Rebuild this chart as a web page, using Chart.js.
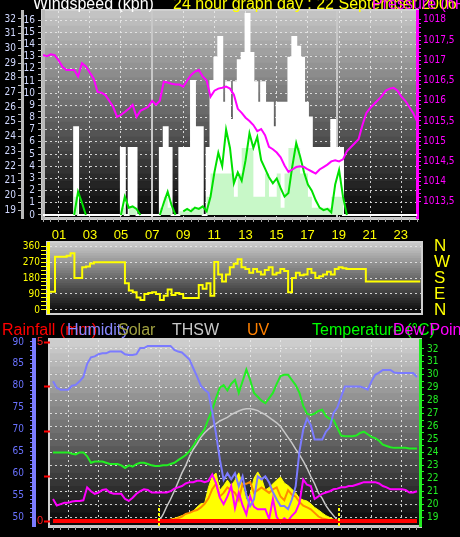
<!DOCTYPE html>
<html>
<head>
<meta charset="utf-8">
<title>24 hour graph</title>
<script src="https://cdn.jsdelivr.net/npm/chart.js"></script>
<style>
  body { margin: 0; background: #000; }
  #page { position: relative; width: 460px; height: 537px; overflow: hidden; background: #000;
          font-family: 'Liberation Sans', Arial, sans-serif; }
  canvas { position: absolute; left: 0; }
  .title { position: absolute; white-space: nowrap; font-size: 16px; line-height: 16px; }
</style>
</head>
<body>
<div id="page">
  <canvas id="windChart" width="460" height="228" style="top:0"></canvas>
  <canvas id="dirChart" width="460" height="92" style="top:228px"></canvas>
  <canvas id="climateChart" width="460" height="217" style="top:320px"></canvas>

  <div class="title" style="left:33px;top:-4px;color:#fff">Windspeed (kph)</div>
  <div class="title" style="left:173px;top:-4px;color:#ffff00">24 hour graph day : 22 September 2006</div>
  <div class="title" style="left:372px;top:-4px;color:#ff00ff">Pressure (hPa)</div>

  <div class="title" style="left:2px;top:322px;color:#ff0000">Rainfall (mm)</div>
  <div class="title" style="left:67px;top:322px;color:#8888ff">Humidity</div>
  <div class="title" style="left:118px;top:322px;color:#a0a040">Solar</div>
  <div class="title" style="left:172px;top:322px;color:#c8c8c8">THSW</div>
  <div class="title" style="left:247px;top:322px;color:#ff8000">UV</div>
  <div class="title" style="left:312px;top:322px;color:#00ff00">Temperature (°C)</div>
  <div class="title" style="left:393px;top:322px;color:#ff00ff">Dew Point</div>
</div>

<script>
// readings every quarter hour, first one at 00:00
const STEP = 0.25;
const SUNRISE = 7.0;
const SUNSET = 18.85;

const LABEL_HOURS = [1, 3, 5, 7, 9, 11, 13, 15, 17, 19, 21, 23];
const HOUR_LABELS = ['01', '03', '05', '07', '09', '11', '13', '15', '17', '19', '21', '23'];

const WIND_TICKS = [0, 1, 2, 3, 4, 5, 6, 7, 8, 9, 10, 11, 12, 13, 14, 15, 16];
const OUTER_TICKS = [19, 20, 21, 22, 23, 24, 25, 26, 27, 28, 29, 30, 31, 32];
const PRESSURE_TICKS = [1013.5, 1014, 1014.5, 1015, 1015.5, 1016, 1016.5, 1017, 1017.5, 1018];
const DIR_TICKS = [0, 90, 180, 270, 360];
const DIR_LETTERS = ['N', 'E', 'S', 'W', 'N'];
const HUM_TICKS = [50, 55, 60, 65, 70, 75, 80, 85, 90];
const RAIN_TICKS = [0, 1.25, 2.5, 3.75, 5];
const RAIN_LABELS = ['0', '', '', '', '5'];
const TEMP_TICKS = [19, 20, 21, 22, 23, 24, 25, 26, 27, 28, 29, 30, 31, 32];

// wind gust (kph)
const GUST = [
  0, 0, 0, 0,   0, 0, 0, 0,   0, 7.2, 0, 0,   0, 0, 0, 0,
  0, 0, 0, 0,   0, 5.5, 0, 5.5,   5.5, 0, 0, 0,   0, 0, 0, 5.5,
  7.2, 5.5, 0, 0,   5.5, 5.5, 5.5, 11,   7.2, 7.2, 0, 5.5,   11, 12.9, 14.6, 9.2,
  10.9, 7.8, 10.9, 12.7,   13.3, 16.5, 13.3, 10.9,   9.2, 10.9, 9.2, 9.2,   7.2, 9.2, 9.2, 9.2,
  12.9, 14.6, 13.8, 12.9,   9.2, 8.0, 5.5, 5.5,   5.5, 5.5, 5.5, 7.8,   5.5, 5.5, 0, 0,
  0, 0, 0, 0,   0, 0, 0, 0,   0, 0, 0, 0,   0, 0, 0, 0,
  0
];
// average wind (kph)
const WIND_AVG = [
  0, 0, 0, 0,   0, 0, 0, 0,   0, 1.5, 0, 0,   0, 0, 0, 0,
  0, 0, 0, 0,   0, 0.6, 0, 0.6,   0.6, 0, 0, 0,   0, 0, 0, 0.6,
  1.5, 0.6, 0, 0,   0.3, 0.3, 0.3, 0.6,   0.6, 0.6, 0, 1.5,   3.4, 3.4, 3.4, 3.4,
  3.4, 3.4, 1.5, 3.4,   5.5, 5.5, 5.5, 1.5,   1.5, 1.5, 3.4, 1.5,   1.5, 3.4, 0.6, 3.4,
  5.5, 5.5, 5.5, 3.4,   3.4, 1.5, 0.6, 0.6,   0.6, 0.6, 0.6, 1.5,   1.5, 1.5, 0, null,
  null, null, null, null,   null, null, null, null,   null, null, null, null,   null, null, null, null,
  null
];
// wind speed (kph)
const WIND_SPEED = [
  null, null, null, null,   null, null, null, null,   0, 1.9, 1.0, 0,   null, null, null, null,
  null, null, null, null,   0, 1.5, 0.6, 0.7,   0.5, 0, null, null,   null, null, 0, 1.0,
  1.9, 0.8, 0, null,   0.3, 0.5, 0.3, 0.6,   0.5, 0.7, 0.3, 1.5,   3.5, 5.1, 4.0, 7.0,
  5.5, 2.6, 3.5, 2.8,   4.5, 6.7, 5.5, 6.4,   4.5, 3.8, 3.1, 2.6,   3.0, 2.2, 1.5, 1.8,
  4.0, 5.9, 4.8, 3.5,   2.5, 2.0, 1.2, 0.6,   0.4, 0.5, 0.2, 2.5,   3.7, 1.5, 0, null,
  null, null, null, null,   null, null, null, null,   null, null, null, null,   null, null, null, null,
  null
];
// barometer (hPa)
const PRESSURE = [
  1017.13, 1017.1, 1017.15, 1017.13,   1017.0, 1016.84, 1016.76, 1016.76,
  1016.76, 1016.6, 1016.93, 1016.85,   1016.7, 1016.55, 1016.22, 1016.2,
  1016.14, 1016.0, 1015.85, 1015.6,   1015.65, 1015.72, 1015.8, 1015.9,
  1015.6, 1015.75, 1015.8, 1015.85,   1016.0, 1015.9, 1016.0, 1016.47,
  1016.45, 1016.42, 1016.4, 1016.4,   1016.35, 1016.5, 1016.64, 1016.72,
  1016.76, 1016.6, 1016.5, 1016.1,   1016.25, 1016.3, 1016.32, 1016.35,
  1016.3, 1016.15, 1015.8, 1015.7,   1015.58, 1015.5, 1015.4, 1015.25,
  1015.3, 1015.15, 1014.86, 1014.8,   1014.72, 1014.6, 1014.4, 1014.24,
  1014.3, 1014.36, 1014.38, 1014.36,   1014.3, 1014.25, 1014.2, 1014.3,
  1014.36, 1014.42, 1014.5, 1014.53,   1014.5, 1014.55, 1014.75, 1014.85,
  1014.95, 1015.05, 1015.4, 1015.7,   1015.82, 1015.92, 1016.02, 1016.12,
  1016.25, 1016.3, 1016.32, 1016.25,   1016.1, 1016.0, 1015.85, 1015.7,
  1015.5
];
// wind direction (degrees)
const WIND_DIR = [
  103, 103, 103, 103,   300, 300, 300, 305,   320, 180, 180, 240,   245, 262, 268, 268,
  268, 268, 268, 268,   268, 268, 150, 110,   100, 70, 56, 90,   95, 100, 90, 56,
  80, 115, 85, 95,   90, 67, 67, 67,   67, 140, 120, 150,   80, 270, 200, 160,
  200, 240, 260, 285,   240, 230, 210, 230,   215, 200, 225, 240,   200, 210, 230, 220,
  100, 180, 210, 195,   200, 230, 210, 180,   190, 200, 215, 200,   230, 240, 235, 230,
  230, 230, 230, 230,   160, 160, 160, 160,   160, 160, 160, 160,   160, 160, 160, 160,
  160, 160
];
// rain (mm), hourly
const RAIN = [0, 0, 0, 0, 0, 0, 0, 0, 0, 0, 0, 0, 0, 0, 0, 0, 0, 0, 0, 0, 0, 0, 0, 0, 0];
// humidity (%)
const HUMIDITY = [
  81, 79.5, 79.1, 79.1,   79.1, 80, 80.2, 81,   82, 85, 86.5, 86.7,   87.2, 87.4, 87.4, 87.8,
  87.8, 87.8, 87.8, 87.2,   87, 87, 87.2, 88.6,   88.6, 89.1, 89.1, 89.1,   89.1, 89.1, 89.1, 89.1,
  88.2, 87.8, 87.6, 86.8,   86, 84, 82.1, 80,   79.1, 78.4, 74, 69,   63.2, 58.5, 60, 58.6,
  60, 57, 59.3, 55,   52.5, 54, 59.3, 58.6,   59.3, 57.9, 55.7, 54,   52.5, 52.5, 51.8, 54,
  57, 65, 70, 72.5,   71, 67.7, 67.7, 67.7,   69.5, 70.5, 73.8, 75,   77.5, 79.8, 79.8, 79.8,
  79.8, 79.8, 79.5, 79.1,   81, 82.5, 83, 83.6,   83.6, 83.6, 83, 82.9,   82.9, 82.9, 82.9, 82.9,
  82
];
// temperature (°C)
const TEMPERATURE = [
  24.0, 24.0, 24.0, 24.0,   24.0, 23.9, 23.85, 24.0,   24.0, 23.7, 23.2, 23.3,   23.3, 23.3, 23.2, 23.1,
  23.1, 23.1, 23.0, 22.8,   23.0, 22.9, 23.1, 23.2,   23.2, 23.1, 23.0, 22.95,   22.95, 23.0, 23.0, 23.1,
  23.2, 23.4, 23.6, 23.8,   24.1, 24.5, 25.0, 25.4,   25.8, 26.6, 27.3, 28.2,   29.0, 29.2, 28.8, 29.3,
  29.6, 28.6, 29.5, 30.4,   29.6, 28.6, 28.3, 28.0,   27.8, 28.2, 28.6, 29.3,   29.9, 30.0, 30.0, 29.6,
  29.2, 28.6, 27.6, 27.0,   26.9, 27.0, 27.2, 27.3,   26.8, 26.6, 26.5, 25.9,   25.3, 25.25, 25.25, 25.25,
  25.3, 25.5, 25.6, 25.4,   25.2, 25.1, 24.9, 24.6,   24.5, 24.4, 24.35, 24.35,   24.35, 24.35, 24.3, 24.3,
  24.3
];
// dew point (°C)
const DEW_POINT = [
  20.4, 19.9, 20.0, 20.1,   20.1, 20.2, 20.25, 20.25,   20.3, 21.3, 21.0, 20.8,   20.9, 21.1, 21.15, 20.9,
  20.8, 20.8, 20.8, 20.4,   20.25, 20.5, 20.8, 21.0,   21.15, 21.1, 20.9, 20.9,   20.9, 20.9, 20.9, 21.0,
  21.2, 21.3, 21.4, 21.6,   21.7, 21.7, 21.8, 21.8,   21.7, 21.8, 22.3, 21.6,   20.5, 20.0, 20.6, 21.4,
  19.7, 20.9, 19.9, 19.2,   20.6, 19.8, 19.6, 19.6,   19.6, 18.85, 20.4, 19.0,   18.6, 18.9, 18.7, 19.1,
  19.4, 20.1, 21.9, 21.5,   21.4, 20.4, 20.6, 20.8,   20.9, 21.0, 21.15, 21.2,   21.3, 21.3, 21.4, 21.4,
  21.5, 21.6, 21.7, 21.7,   21.7, 21.7, 21.6, 21.4,   21.3, 21.15, 21.15, 21.15,   21.15, 21.1, 20.9, 20.9,
  21.0
];
// solar radiation (W/m²)
const SOLAR = [
  0, 0, 0, 0,   0, 0, 0, 0,   0, 0, 0, 0,   0, 0, 0, 0,
  0, 0, 0, 0,   0, 0, 0, 0,   0, 0, 0, 0,   5, 10, 12, 15,
  20, 27, 35, 40,   50, 60, 82, 100,   104, 190, 250, 269,   175, 200, 230, 200,
  230, 270, 200, 121,   150, 240, 275, 240,   176, 190, 210, 230,   247, 214, 200, 180,
  160, 130, 121, 115,   100, 80, 66, 50,   35, 25, 15, 8,   0, 0, 0, 0,
  0, 0, 0, 0,   0, 0, 0, 0,   0, 0, 0, 0,   0, 0, 0, 0,
  0
];
// UV index
const UV = [
  0, 0, 0, 0,   0, 0, 0, 0,   0, 0, 0, 0,   0, 0, 0, 0,
  0, 0, 0, 0,   0, 0, 0, 0,   0, 0, 0, 0,   0.05, 0.1, 0.1, 0.12,
  0.15, 0.2, 0.3, 0.45,   0.5, 0.6, 0.66, 0.8,   1.0, 1.3, 1.8, 2.1,   1.4, 1.6, 1.9, 1.75,
  1.6, 1.2, 2.1, 2.1,   2.2, 1.6, 1.75, 1.9,   1.75, 1.6, 1.8, 1.9,   1.4, 1.2, 1.75, 1.5,
  1.4, 1.1, 0.9, 0.8,   0.7, 0.5, 0.3, 0.2,   0.15, 0.1, 0.05, 0.02,   0, 0, 0, 0,
  0, 0, 0, 0,   0, 0, 0, 0,   0, 0, 0, 0,   0, 0, 0, 0,
  0
];
// THSW curve (same scale as solar)
const THSW = [
  null, null, null, null,   null, null, null, null,   null, null, null, null,   null, null, null, null,
  null, null, null, null,   null, null, null, null,   null, null, null, 0,   5, 40, 85, 125,
  170, 220, 270, 310,   360, 400, 430, 465,   490, 510, 525, 540,   555, 565, 575, 590,
  600, 610, 618, 622,   622, 618, 612, 600,   590, 575, 560, 545,   525, 495, 465, 435,
  400, 370, 335, 295,   250, 210, 160, 130,   90, 60, 35, 10,   0, null, null, null,
  null, null, null, null,   null, null, null, null,   null, null, null, null,   null, null, null, null,
  null
];

const GRID_DOT = 'rgba(235,235,235,0.85)';
const SMALL_FONT = { family: "'Liberation Sans Narrow', 'DejaVu Sans Condensed', sans-serif", size: 10, lineHeight: 1 };

Chart.defaults.font.family = "'Liberation Sans', Arial, sans-serif";
Chart.defaults.animation = false;
Chart.defaults.plugins.legend.display = false;
Chart.defaults.plugins.tooltip.enabled = false;
Chart.defaults.elements.point.radius = 0;
Chart.defaults.elements.line.tension = 0;

function toPoints(values, step) {
  return values.map((v, i) => ({ x: i * step, y: v }));
}

// labelled ticks plus unlabelled ruler marks in between
function rulerTicks(major, parts) {
  const out = [];
  major.forEach((v, i) => {
    out.push({ value: v, major: true });
    if (i < major.length - 1) {
      const d = (major[i + 1] - v) / parts;
      for (let k = 1; k < parts; k++) out.push({ value: v + d * k, major: false });
    }
  });
  return out;
}

function halfHourTicks(axis) {
  const ticks = [];
  for (let h = 0; h <= 24; h += 0.5) ticks.push({ value: h, major: LABEL_HOURS.includes(h) });
  axis.ticks = ticks;
}

function majorLabel(value, index, ticks) {
  return ticks[index].major ? String(value) : '';
}

function majorGrid(ctx) {
  return ctx.tick && ctx.tick.major ? GRID_DOT : 'transparent';
}

function hourAxis(min, max) {
  return {
    type: 'linear', position: 'bottom', min: min, max: max,
    afterBuildTicks: halfHourTicks,
    afterFit: a => { a.height = 10; },
    ticks: { display: false },
    grid: { color: majorGrid, tickLength: 4, tickColor: '#a8a8a8' },
    border: { color: '#c8c8c8', width: 2, dash: [2, 3] }
  };
}

const panelBackground = {
  id: 'panelBackground',
  beforeDraw(chart, args, opts) {
    const { ctx, chartArea: a } = chart;
    const bands = 28;
    ctx.save();
    for (let i = 0; i < bands; i++) {
      const c = Math.round(opts.top + (opts.bottom - opts.top) * i / (bands - 1));
      ctx.fillStyle = 'rgb(' + c + ',' + c + ',' + c + ')';
      ctx.fillRect(a.left, a.top + a.height * i / bands, a.width, a.height / bands + 1);
    }
    ctx.strokeStyle = '#d0d0d0';
    ctx.lineWidth = 2;
    ctx.strokeRect(a.left - 1, a.top - 1, a.width + 2, a.height + 2);
    ctx.restore();
  }
};

function drawSunMarks(chart, opts) {
  const { ctx, chartArea: a, scales } = chart;
  ctx.save();
  ctx.strokeStyle = opts.color;
  ctx.lineWidth = opts.width;
  ctx.setLineDash(opts.dash);
  [SUNRISE, SUNSET].forEach(h => {
    const px = Math.round(scales.x.getPixelForValue(h));
    ctx.beginPath();
    ctx.moveTo(px, a.bottom);
    ctx.lineTo(px, a.bottom - a.height * opts.reach);
    ctx.stroke();
  });
  ctx.restore();
}

const sunMarks = {
  id: 'sunMarks',
  beforeDatasetsDraw(chart, args, opts) { if (opts.drawTime === 'before') drawSunMarks(chart, opts); },
  afterDatasetsDraw(chart, args, opts) { if (opts.drawTime === 'after') drawSunMarks(chart, opts); }
};

// ---- wind speed / pressure ----
new Chart(document.getElementById('windChart'), {
  type: 'line',
  data: {
    datasets: [
      { label: 'Pressure', data: toPoints(PRESSURE, STEP), yAxisID: 'yP',
        borderColor: '#ff00ff', borderWidth: 2 },
      { label: 'Wind speed', data: toPoints(WIND_SPEED, STEP), yAxisID: 'y',
        borderColor: '#00e000', borderWidth: 2 },
      { label: 'Average wind', data: toPoints(WIND_AVG, STEP), yAxisID: 'y', stepped: 'after',
        borderWidth: 0, borderColor: 'transparent', backgroundColor: '#c8f8c8', fill: 'origin' },
      { label: 'Gust', data: toPoints(GUST, STEP), yAxisID: 'y', stepped: 'after',
        borderColor: '#ffffff', borderWidth: 2, backgroundColor: '#ffffff', fill: 'origin' }
    ]
  },
  options: {
    responsive: false,
    layout: { autoPadding: false, padding: { top: 11, right: 0, bottom: 0, left: 0 } },
    scales: {
      x: hourAxis(0, 24),
      y: {
        position: 'left', weight: 0, min: -0.25, max: 16.74,
        afterBuildTicks: a => { a.ticks = rulerTicks(WIND_TICKS, 2); },
        afterFit: a => { a.width = 21; },
        ticks: { color: '#d0d8ff', font: SMALL_FONT, padding: 3, autoSkip: false, callback: majorLabel },
        grid: { color: majorGrid, tickLength: 5, tickColor: '#b8b8b8' },
        border: { color: '#b8b8b8', width: 3, dash: [2, 3] }
      },
      yOuter: {
        position: 'left', weight: 1, min: 18.46, max: 32.54,
        afterBuildTicks: a => { a.ticks = rulerTicks(OUTER_TICKS, 2); },
        afterFit: a => { a.width = 22; },
        ticks: { color: '#d0d8ff', font: SMALL_FONT, padding: 2, autoSkip: false, callback: majorLabel },
        grid: { drawOnChartArea: false, tickLength: 4, tickColor: '#b8b8b8' },
        border: { color: '#b8b8b8', width: 3 }
      },
      yP: {
        position: 'right', min: 1013.1, max: 1018.22,
        afterBuildTicks: a => { a.ticks = rulerTicks(PRESSURE_TICKS, 5); },
        afterFit: a => { a.width = 43; },
        ticks: { color: '#ff00ff', font: SMALL_FONT, padding: 2, autoSkip: false,
                 callback: (v, i, t) => t[i].major ? String(v).replace('.', ',') : '' },
        grid: { drawOnChartArea: false, tickLength: 4, tickColor: '#ff00ff' },
        border: { color: '#ff00ff', width: 3 }
      }
    },
    plugins: {
      panelBackground: { top: 195, bottom: 8 },
      sunMarks: { drawTime: 'before', color: '#c8c8c8', width: 2, dash: [], reach: 1 }
    }
  },
  plugins: [panelBackground, sunMarks]
});

// ---- wind direction ----
new Chart(document.getElementById('dirChart'), {
  type: 'line',
  data: {
    datasets: [
      { label: 'Wind direction', data: toPoints(WIND_DIR, STEP), stepped: 'after',
        borderColor: '#ffff00', borderWidth: 2 }
    ]
  },
  options: {
    responsive: false,
    layout: { autoPadding: false, padding: { top: 0, right: 0, bottom: 7, left: 0 } },
    scales: {
      x: {
        type: 'linear', position: 'top', min: 0.3, max: 24.3,
        afterBuildTicks: a => { a.ticks = LABEL_HOURS.map(h => ({ value: h, major: true })); },
        afterFit: a => { a.height = 15; },
        ticks: { color: '#ffff00', font: { size: 13 }, padding: 0, autoSkip: false, maxRotation: 0,
                 callback: (v, i) => HOUR_LABELS[i] },
        grid: { display: false, drawTicks: false },
        border: { display: false }
      },
      y: {
        position: 'left', min: -17, max: 377,
        afterBuildTicks: a => { a.ticks = rulerTicks(DIR_TICKS, 4); },
        afterFit: a => { a.width = 48; },
        ticks: { color: '#ffff00', font: SMALL_FONT, padding: 1, autoSkip: false, callback: majorLabel },
        grid: { color: majorGrid, tickLength: 7, tickColor: '#ffff00' },
        border: { color: '#ffff00', width: 3, dash: [2, 3] }
      },
      yDir: {
        position: 'right', min: -17, max: 377,
        afterBuildTicks: a => { a.ticks = DIR_TICKS.map(v => ({ value: v })); },
        afterFit: a => { a.width = 39; },
        ticks: { color: '#ffff00', font: { size: 17, lineHeight: 0.8 }, padding: 0, autoSkip: false,
                 callback: (v, i) => DIR_LETTERS[i] },
        grid: { display: true, drawOnChartArea: false, drawTicks: true, tickLength: 13, tickColor: 'transparent' },
        border: { display: false }
      }
    },
    plugins: { panelBackground: { top: 200, bottom: 10 } }
  },
  plugins: [panelBackground]
});

// ---- rain / humidity / solar / UV / temperature ----
new Chart(document.getElementById('climateChart'), {
  type: 'line',
  data: {
    datasets: [
      { label: 'Rainfall', data: toPoints(RAIN, 1), yAxisID: 'yRain',
        borderColor: '#ff0000', borderWidth: 4 },
      { label: 'Humidity', data: toPoints(HUMIDITY, STEP), yAxisID: 'yHum',
        borderColor: '#7b7bff', borderWidth: 2 },
      { label: 'Dew Point', data: toPoints(DEW_POINT, STEP), yAxisID: 'yTemp',
        borderColor: '#ff00ff', borderWidth: 2 },
      { label: 'Temperature', data: toPoints(TEMPERATURE, STEP), yAxisID: 'yTemp',
        borderColor: '#22ee22', borderWidth: 2 },
      { label: 'UV', data: toPoints(UV, STEP), yAxisID: 'yUV',
        borderColor: '#ff8c00', borderWidth: 2 },
      { label: 'THSW', data: toPoints(THSW, STEP), yAxisID: 'ySolar',
        borderColor: '#c8c8c8', borderWidth: 1.5 },
      { label: 'Solar', data: toPoints(SOLAR, STEP), yAxisID: 'ySolar',
        borderColor: '#ffff00', borderWidth: 1, backgroundColor: '#ffff00', fill: 'origin' }
    ]
  },
  options: {
    responsive: false,
    layout: { autoPadding: false, padding: { top: 20, right: 0, bottom: 0, left: 0 } },
    scales: {
      x: hourAxis(-0.2, 24.2),
      yRain: {
        position: 'left', weight: 0, min: -0.139, max: 5.056,
        afterBuildTicks: a => { a.ticks = RAIN_TICKS.map(v => ({ value: v })); },
        afterFit: a => { a.width = 16; },
        ticks: { color: '#ff2020', font: { size: 11, lineHeight: 1 }, padding: 1, autoSkip: false,
                 callback: (v, i) => RAIN_LABELS[i] },
        grid: { drawOnChartArea: false, tickLength: 6, tickColor: '#ff0000', tickWidth: 2 },
        border: { display: false }
      },
      yHum: {
        position: 'left', weight: 1, min: 47.95, max: 90.45,
        afterBuildTicks: a => { a.ticks = rulerTicks(HUM_TICKS, 5); },
        afterFit: a => { a.width = 34; },
        ticks: { color: '#6a72ff', font: SMALL_FONT, padding: 6, autoSkip: false, callback: majorLabel },
        grid: { drawOnChartArea: false, tickLength: 4, tickColor: '#7b7bff' },
        border: { color: '#7b7bff', width: 4 }
      },
      yTemp: {
        position: 'right', min: 18.31, max: 32.69,
        afterBuildTicks: a => { a.ticks = rulerTicks(TEMP_TICKS, 2); },
        afterFit: a => { a.width = 40; },
        ticks: { color: '#22ee22', font: SMALL_FONT, padding: 3, autoSkip: false, callback: majorLabel },
        grid: { color: majorGrid, tickLength: 4, tickColor: '#22ee22' },
        border: { color: '#22ee22', width: 3, dash: [2, 3] }
      },
      ySolar: { display: false, min: -22, max: 1000 },
      yUV: { display: false, min: -0.22, max: 10 }
    },
    plugins: {
      panelBackground: { top: 205, bottom: 10 },
      sunMarks: { drawTime: 'after', color: '#ffff00', width: 2, dash: [3, 2], reach: 0.11 }
    }
  },
  plugins: [panelBackground, sunMarks]
});
</script>
</body>
</html>
